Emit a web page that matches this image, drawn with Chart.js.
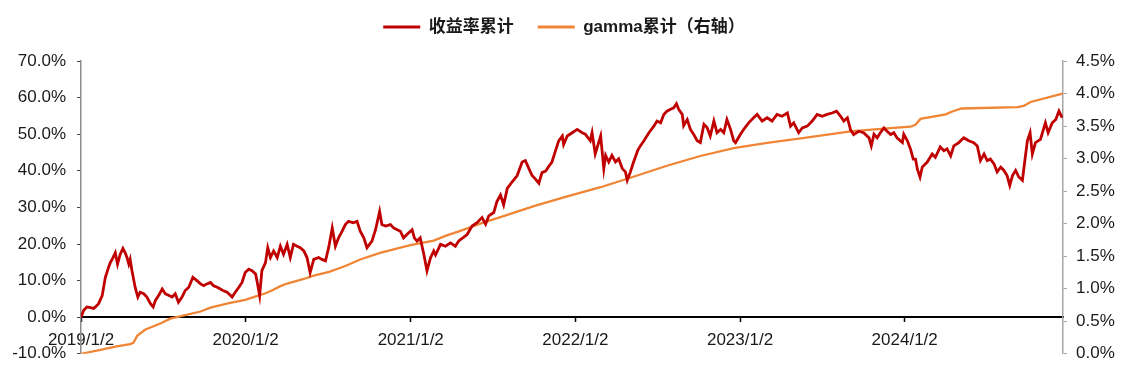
<!DOCTYPE html>
<html>
<head>
<meta charset="utf-8">
<script src="https://cdn.jsdelivr.net/npm/chart.js@4.4.1/dist/chart.umd.min.js"></script>
<style>
  html, body { margin: 0; padding: 0; background: #fff; }
  #wrap { width: 1128px; height: 375px; }
</style>
</head>
<body>
<div id="wrap"><canvas id="chart" width="1128" height="375"></canvas></div>
<script>
// x = calendar days since 2019/1/2
const tickDays   = [0, 365, 731, 1096, 1461, 1826];
const tickLabels = ["2019/1/2", "2020/1/2", "2021/1/2", "2022/1/2", "2023/1/2", "2024/1/2"];
const lastDay = 2177;

// 收益率累计 (left axis, %)
const retDays = [
  0, 6, 13, 21, 28, 32, 39, 47, 54, 61,
  65, 71, 76, 81, 87, 93, 98, 102, 106, 109,
  113, 120, 126, 131, 139, 146, 154, 160, 165, 172,
  180, 187, 194, 202, 209, 216, 224, 231, 239, 248,
  257, 265, 272, 279, 287, 294, 302, 309, 316, 324,
  331, 335, 342, 350, 357, 364, 372, 379, 387, 390,
  396, 401, 409, 414, 420, 427, 435, 442, 449, 457,
  464, 471, 479, 486, 494, 501, 508, 516, 527, 534,
  542, 549, 557, 564, 571, 579, 586, 593, 604, 612,
  619, 627, 634, 645, 653, 662, 667, 675, 686, 693,
  701, 708, 715, 726, 734, 739, 745, 752, 760, 767,
  775, 782, 786, 797, 808, 819, 830, 837, 841, 848,
  856, 867, 878, 889, 897, 904, 915, 922, 930, 937,
  945, 956, 967, 978, 985, 993, 1000, 1007, 1015, 1022,
  1030, 1037, 1044, 1052, 1059, 1067, 1070, 1078, 1089, 1100,
  1111, 1118, 1129, 1133, 1140, 1152, 1159, 1163, 1170, 1177,
  1185, 1192, 1200, 1207, 1211, 1218, 1225, 1234, 1240, 1248,
  1259, 1270, 1277, 1285, 1292, 1299, 1307, 1314, 1320, 1325,
  1333, 1336, 1344, 1351, 1358, 1366, 1373, 1381, 1388, 1395,
  1403, 1410, 1418, 1425, 1432, 1440, 1447, 1451, 1462, 1469,
  1480, 1491, 1499, 1510, 1521, 1532, 1543, 1554, 1566, 1573,
  1580, 1591, 1599, 1610, 1621, 1632, 1643, 1654, 1665, 1675,
  1684, 1691, 1699, 1706, 1713, 1724, 1735, 1747, 1752, 1758,
  1765, 1772, 1780, 1787, 1795, 1802, 1809, 1821, 1824, 1832,
  1839, 1845, 1850, 1854, 1860, 1865, 1876, 1887, 1894, 1905,
  1913, 1920, 1928, 1935, 1946, 1957, 1968, 1979, 1987, 1994,
  2002, 2009, 2016, 2024, 2031, 2039, 2046, 2053, 2059, 2065,
  2072, 2079, 2087, 2092, 2098, 2104, 2109, 2116, 2127, 2138,
  2144, 2153, 2161, 2168, 2175
];
const retVals = [
  0, 1.9, 2.8, 2.6, 2.4, 2.8, 3.7, 5.9, 10.9, 13.6,
  14.9, 16.3, 17.6, 14.5, 17.2, 18.8, 17.6, 16.3, 14.5, 15.8,
  12.7, 8.2, 5.5, 6.8, 6.4, 5.5, 3.7, 2.8, 4.6, 5.9,
  7.7, 6.4, 6.0, 5.5, 6.4, 4.1, 5.5, 7.3, 8.2, 10.9,
  10.0, 9.1, 8.6, 9.1, 9.5, 8.6, 8.2, 7.7, 7.2, 6.8,
  6.0, 5.5, 6.8, 8.2, 9.5, 12.2, 13.1, 12.7, 11.8, 10.0,
  5.9, 12.7, 14.9, 19.0, 16.3, 18.1, 16.3, 19.4, 17.2, 19.9,
  16.3, 19.9, 19.4, 19.0, 18.1, 16.3, 12.2, 15.8, 16.3, 15.8,
  15.4, 19.0, 24.4, 19.4, 21.7, 23.5, 25.3, 26.2, 25.8, 26.2,
  23.5, 21.7, 19.0, 20.8, 23.9, 28.9, 25.3, 24.9, 25.3, 24.4,
  23.9, 23.5, 21.7, 23.0, 23.9, 21.7, 20.8, 21.7, 17.2, 12.7,
  16.3, 18.1, 17.0, 19.9, 19.4, 20.3, 19.4, 20.8, 21.2, 21.8,
  22.6, 24.9, 25.8, 27.2, 25.4, 27.7, 28.6, 31.6, 33.4, 30.7,
  35.2, 37.0, 38.7, 42.4, 42.8, 40.6, 38.7, 37.8, 36.6, 39.5,
  39.9, 41.2, 42.4, 45.5, 48.2, 49.5, 47.2, 49.5, 50.4, 51.3,
  50.4, 50.0, 48.2, 50.4, 44.6, 49.5, 40.6, 44.2, 42.4, 44.2,
  42.4, 43.3, 40.6, 39.7, 37.4, 39.7, 42.4, 45.5, 46.8, 48.2,
  50.4, 52.2, 53.6, 53.1, 55.4, 56.3, 56.8, 57.2, 58.3, 56.8,
  55.4, 52.3, 54.0, 51.3, 50.0, 48.2, 47.7, 52.7, 51.8, 49.5,
  53.6, 50.4, 51.3, 50.4, 54.0, 51.3, 48.2, 47.7, 50.0, 51.3,
  53.1, 54.5, 55.4, 53.6, 54.5, 53.6, 55.4, 54.9, 55.8, 52.2,
  53.1, 50.4, 51.7, 52.2, 53.6, 55.4, 54.9, 55.4, 55.8, 56.3,
  54.9, 53.6, 54.5, 51.2, 49.9, 50.8, 50.4, 49.0, 46.8, 50.0,
  49.0, 50.4, 51.7, 50.8, 49.9, 50.4, 49.0, 47.7, 50.0, 48.2,
  45.9, 43.2, 43.2, 40.5, 38.3, 41.0, 42.4, 44.6, 43.7, 46.5,
  45.5, 46.0, 44.1, 46.8, 47.7, 49.0, 48.2, 47.7, 46.8, 42.8,
  44.6, 42.8, 43.2, 41.9, 39.7, 41.0, 40.1, 38.7, 36.0, 38.7,
  40.1, 38.3, 37.4, 42.4, 48.2, 50.4, 44.6, 47.7, 48.6, 53.1,
  50.4, 53.1, 54.0, 56.3, 54.5
];

// gamma累计 (right axis, %)
const gammaDays = [
  0, 43, 76, 109, 116, 125, 142, 177, 198, 217,
  265, 287, 328, 364, 391, 409, 422, 442, 457, 494,
  516, 550, 586, 619, 663, 730, 782, 811, 841, 893,
  930, 1004, 1078, 1152, 1211, 1299, 1373, 1447, 1521, 1596,
  1706, 1780, 1839, 1850, 1861, 1917, 1930, 1952, 2076, 2090,
  2105, 2176
];
const gammaVals = [
  0.00, 0.06, 0.11, 0.15, 0.17, 0.28, 0.37, 0.47, 0.54, 0.57,
  0.65, 0.71, 0.78, 0.83, 0.89, 0.93, 0.97, 1.04, 1.08, 1.15,
  1.20, 1.26, 1.35, 1.45, 1.55, 1.67, 1.74, 1.82, 1.89, 2.02,
  2.10, 2.27, 2.42, 2.56, 2.69, 2.89, 3.04, 3.16, 3.24, 3.31,
  3.42, 3.46, 3.49, 3.52, 3.61, 3.68, 3.72, 3.77, 3.79, 3.81,
  3.87, 4.00
];

const FONT = '"Liberation Sans", Arial, "Noto Sans CJK SC", sans-serif';
const TXT = "#1a1a1a";

function pts(xs, ys) { return xs.map((x, i) => ({ x, y: ys[i] })); }
const pct = d => v => Number(v).toFixed(d) + "%";

// legend: keep the plot top at the 70% line
const legendSpace = {
  id: "legendSpace",
  beforeLayout(chart) {
    const lg = chart.legend;
    if (!lg || lg.__patched) return;
    const fit = lg.fit.bind(lg);
    lg.fit = function () { fit(); this.height = 66.5; };
    lg.__patched = true;
  }
};

new Chart(document.getElementById("chart"), {
  type: "line",
  data: {
    datasets: [
      { label: "收益率累计", data: pts(retDays, retVals), yAxisID: "y",
        borderColor: "#C00000", backgroundColor: "#C00000", borderWidth: 2.8 },
      { label: "gamma累计（右轴）", data: pts(gammaDays, gammaVals), yAxisID: "y1",
        borderColor: "#EF8535", backgroundColor: "#EF8535", borderWidth: 2.3 }
    ]
  },
  options: {
    responsive: false,
    animation: false,
    devicePixelRatio: 1,
    layout: { padding: { top: -5.5, left: 0, right: 0, bottom: 18 } },
    elements: { point: { radius: 0, hoverRadius: 0 }, line: { tension: 0, fill: false } },
    plugins: {
      tooltip: { enabled: false },
      legend: {
        position: "top",
        labels: {
          color: TXT,
          font: { family: FONT, size: 17, weight: "bold" },
          boxWidth: 37, boxHeight: 3, padding: 24,
          generateLabels(chart) {
            return Chart.defaults.plugins.legend.labels.generateLabels(chart)
              .map(l => ({ ...l, lineWidth: 0, fillStyle: l.strokeStyle }));
          }
        }
      }
    },
    scales: {
      x: {
        type: "linear",
        position: { y: 0 },
        min: 0, max: lastDay,
        afterBuildTicks: axis => { axis.ticks = tickDays.map(v => ({ value: v })); },
        ticks: {
          autoSkip: false, maxRotation: 0, padding: 9, color: TXT,
          font: { family: FONT, size: 17 },
          callback: v => { const i = tickDays.indexOf(v); return i >= 0 ? tickLabels[i] : ""; }
        },
        grid: { drawOnChartArea: false, tickLength: 4, color: "#000", tickWidth: 1.5 },
        border: { color: "#000", width: 2 }
      },
      y: {
        position: "left",
        min: -10, max: 70,
        afterFit: s => { s.width = 81; },
        ticks: { stepSize: 10, padding: 11, color: TXT, font: { family: FONT, size: 17 }, callback: pct(1) },
        grid: { drawOnChartArea: false, tickLength: 4, color: "#444" },
        border: { color: "#8c8c8c", width: 1.5 }
      },
      y1: {
        position: "right",
        min: 0, max: 4.5,
        afterFit: s => { s.width = 65; },
        ticks: { stepSize: 0.5, padding: 9, color: TXT, font: { family: FONT, size: 17 }, callback: pct(1) },
        grid: { drawOnChartArea: false, tickLength: 4, color: "#a6a6a6" },
        border: { color: "#a6a6a6", width: 1.5 }
      }
    }
  },
  plugins: [legendSpace]
});
</script>
</body>
</html>
